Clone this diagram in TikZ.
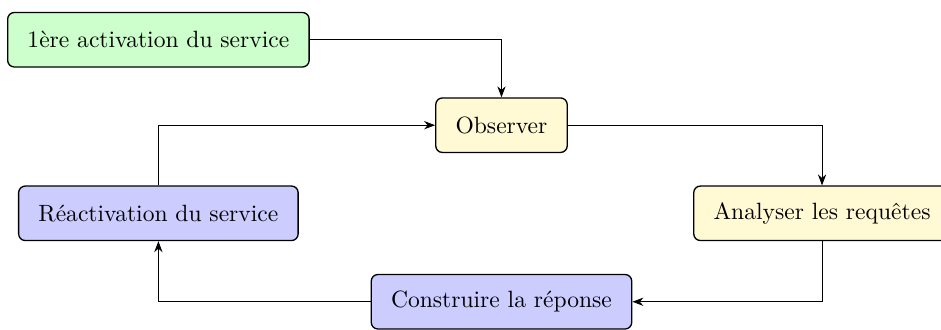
\documentclass[tikz,border=0pt]{standalone}
\usepackage{tikz}
\usetikzlibrary{arrows.meta}
\definecolor{creamfill}{RGB}{255,249,212}

\begin{document}
\begin{tikzpicture}[x=1cm,y=1cm,>={Stealth[length=5pt]},font=\fontsize{10.7pt}{12.8pt}\selectfont,
  stage/.style={draw,semithick,rounded corners=3pt,minimum height=0.87cm,inner xsep=9pt},
  link/.style={->}]
  \useasboundingbox (0,0) rectangle (15.03,5.26);
  % start of the service, then the loop
  \node[stage,fill=green!20] (start) at (2.53,4.625) {1ère activation du service};
  \node[stage,fill=creamfill] (observe) at (8.01,3.26) {Observer};
  \node[stage,fill=creamfill] (analyse) at (13.13,1.853) {Analyser les requêtes};
  \node[stage,fill=blue!20] (build) at (8.01,0.44) {Construire la réponse};
  \node[stage,fill=blue!20] (restart) at (2.53,1.853) {Réactivation du service};
  % the arrows round the cycle
  \draw[link] (start.east) -| (observe.north);
  \draw[link] (observe.east) -| (analyse.north);
  \draw[link] (analyse.south) |- (build.east);
  \draw[link] (build.west) -| (restart.south);
  \draw[link] (restart.north) |- (observe.west);
\end{tikzpicture}
\end{document}
